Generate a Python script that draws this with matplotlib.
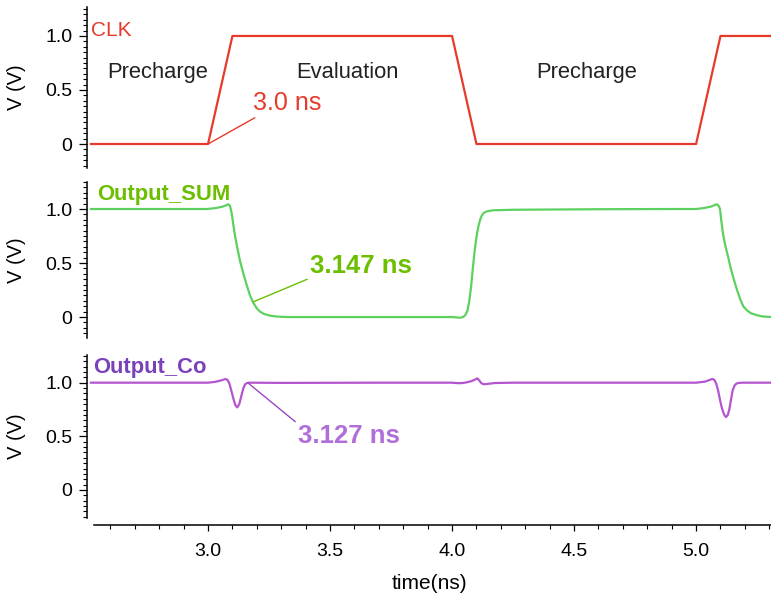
#!/usr/bin/env python3
"""Dynamic full-adder transient waveforms: CLK, Output_SUM and Output_Co."""

import matplotlib

matplotlib.use("Agg")
import matplotlib.pyplot as plt
from matplotlib.ticker import FixedLocator, FixedFormatter, MultipleLocator

plt.rcParams["font.family"] = ["Liberation Sans", "DejaVu Sans"]

# clock: piecewise linear edges (ns, V)
clk_t = [2.52, 3.0, 3.1, 4.0, 4.1, 5.0, 5.1, 5.31]
clk_v = [0.0, 0.0, 1.0, 1.0, 0.0, 0.0, 1.0, 1.0]

# Output_SUM
sum_t = [2.52, 2.8, 2.995, 3.03, 3.06, 3.075, 3.083, 3.09, 3.097, 3.104,
         3.11, 3.12, 3.131, 3.145, 3.158, 3.172, 3.186, 3.2, 3.213, 3.23,
         3.254, 3.28, 3.32, 3.6,
         4.0, 4.02, 4.035, 4.045, 4.055, 4.063, 4.07, 4.078, 4.085, 4.093,
         4.10, 4.108, 4.115, 4.122, 4.131, 4.145, 4.168, 4.25, 4.6, 4.9,
         5.0, 5.03, 5.06, 5.075, 5.085, 5.092, 5.098, 5.104, 5.111, 5.12,
         5.131, 5.141, 5.152, 5.165, 5.18, 5.193, 5.207, 5.225, 5.248, 5.27,
         5.31]
sum_v = [1.0, 1.0, 1.0, 1.008, 1.022, 1.035, 1.044, 1.03, 0.96, 0.85,
         0.76, 0.64, 0.52, 0.40, 0.30, 0.20, 0.13, 0.08, 0.05, 0.028,
         0.013, 0.005, 0.0, 0.0,
         0.0, -0.004, -0.006, 0.0, 0.02, 0.06, 0.14, 0.28, 0.45, 0.62,
         0.74, 0.84, 0.90, 0.94, 0.966, 0.98, 0.988, 0.993, 0.998, 1.0,
         1.0, 1.008, 1.022, 1.035, 1.044, 1.03, 1.0, 0.88, 0.76, 0.66,
         0.56, 0.46, 0.37, 0.27, 0.17, 0.10, 0.065, 0.035, 0.018, 0.006,
         0.0]

# Output_Co
co_t = [2.52, 2.8, 3.0, 3.03, 3.055, 3.072, 3.08, 3.087, 3.095, 3.104,
        3.112, 3.12, 3.128, 3.138, 3.145, 3.152, 3.16, 3.17, 3.3, 3.7,
        3.998, 4.02, 4.04, 4.06, 4.08, 4.095, 4.104, 4.112, 4.12, 4.131,
        4.15, 4.176, 4.25, 4.6,
        5.0, 5.037, 5.055, 5.067, 5.075, 5.082, 5.09, 5.098, 5.105, 5.112,
        5.118, 5.123, 5.13, 5.136, 5.143, 5.15, 5.158, 5.166, 5.18, 5.192,
        5.31]
co_v = [1.0, 1.0, 1.0, 1.008, 1.022, 1.035, 1.025, 0.995, 0.93, 0.85,
        0.79, 0.77, 0.80, 0.89, 0.95, 0.985, 0.997, 1.0, 0.998, 1.0,
        1.0, 0.996, 0.996, 1.003, 1.015, 1.03, 1.04, 1.02, 0.995, 0.985,
        0.99, 0.997, 1.0, 1.0,
        1.0, 1.01, 1.025, 1.035, 1.025, 0.995, 0.93, 0.84, 0.77, 0.72,
        0.69, 0.68, 0.70, 0.75, 0.84, 0.93, 0.975, 0.993, 0.999, 1.0,
        1.0]

phase_names = ["Precharge", "Evaluation", "Precharge"]
phase_t = [2.795, 3.57, 4.553]

ytick_vals = [0.0, 0.5, 1.0]
ytick_labels = ["0", "0.5", "1.0"]
xtick_vals = [3.0, 3.5, 4.0, 4.5, 5.0]
xtick_labels = ["3.0", "3.5", "4.0", "4.5", "5.0"]

RED = "#e63b2b"
GREEN_LINE = "#5cd160"
GREEN_TEXT = "#6cbf00"
PURPLE_LINE = "#b455cf"
PURPLE_NAME = "#7a42ba"
PURPLE_TEXT = "#b06fd8"

W, H = 771, 597
XLIM = (2.504, 5.307)


def px_box(top, bottom, left=87, right=771):
    return [left / W, 1 - bottom / H, (right - left) / W, (bottom - top) / H]


def style_axis(ax, ylim, show_x=False):
    ax.set_xlim(*XLIM)
    ax.set_ylim(*ylim)
    for side in ("top", "right"):
        ax.spines[side].set_visible(False)
    ax.spines["left"].set_linewidth(1.1)
    ax.yaxis.set_major_locator(FixedLocator(ytick_vals))
    ax.yaxis.set_major_formatter(FixedFormatter(ytick_labels))
    ax.yaxis.set_minor_locator(MultipleLocator(0.05))
    ax.tick_params(axis="y", which="major", length=5.5, width=0.9,
                   labelsize=14, pad=5)
    ax.tick_params(axis="y", which="minor", length=3.2, width=0.8)
    if show_x:
        ax.spines["bottom"].set_position(("outward", 5))
        ax.spines["bottom"].set_bounds(2.533, XLIM[1])
        ax.spines["bottom"].set_linewidth(1.1)
        ax.xaxis.set_major_locator(FixedLocator(xtick_vals))
        ax.xaxis.set_major_formatter(FixedFormatter(xtick_labels))
        ax.xaxis.set_minor_locator(FixedLocator(
            [2.6, 2.7, 2.8, 2.9, 3.1, 3.2, 3.3, 3.4, 3.6, 3.7, 3.8, 3.9,
             4.1, 4.2, 4.3, 4.4, 4.6, 4.7, 4.8, 4.9, 5.1, 5.2, 5.3]))
        ax.tick_params(axis="x", which="major", length=4, width=0.9,
                       labelsize=14, pad=9)
        ax.tick_params(axis="x", which="minor", length=3.2, width=0.8)
        ax.set_xlabel("time(ns)", fontsize=15, labelpad=10)
    else:
        ax.spines["bottom"].set_visible(False)
        ax.set_xticks([])


def main():
    fig = plt.figure(figsize=(W / 100, H / 100), dpi=100)
    ax_clk = fig.add_axes(px_box(7, 168))
    ax_sum = fig.add_axes(px_box(182, 338))
    ax_co = fig.add_axes(px_box(355, 518))

    # CLK
    style_axis(ax_clk, (-0.222, 1.268))
    ax_clk.plot(clk_t, clk_v, color=RED, lw=1.6, clip_on=False)
    ax_clk.text(2.52, 1.0, "CLK", color=RED, fontsize=15, va="baseline")
    for name, t in zip(phase_names, phase_t):
        ax_clk.text(t, 0.61, name, fontsize=15.8, color="#222222",
                    ha="center", va="baseline")
    ax_clk.annotate("3.0 ns", xy=(3.0, 0.0), xytext=(3.184, 0.315),
                    color=RED, fontsize=18, va="baseline",
                    arrowprops=dict(arrowstyle="-", color=RED, lw=1.0,
                                    shrinkA=0, shrinkB=0,
                                    relpos=(0.1, 0.0)))

    # Output_SUM
    style_axis(ax_sum, (-0.194, 1.25))
    ax_sum.plot(sum_t, sum_v, color=GREEN_LINE, lw=1.6)
    ax_sum.text(2.545, 1.083, "Output_SUM", color=GREEN_TEXT, fontsize=15.8,
                fontweight="bold", va="baseline")
    ax_sum.annotate("3.147 ns", xy=(3.184, 0.139), xytext=(3.418, 0.407),
                    color=GREEN_TEXT, fontsize=18.5, fontweight="bold",
                    va="baseline",
                    arrowprops=dict(arrowstyle="-", color=GREEN_TEXT, lw=1.0,
                                    shrinkA=0, shrinkB=0, relpos=(0.0, 0.0)))

    # Output_Co
    style_axis(ax_co, (-0.261, 1.258), show_x=True)
    ax_co.plot(co_t, co_v, color=PURPLE_LINE, lw=1.6)
    ax_co.text(2.528, 1.09, "Output_Co", color=PURPLE_NAME, fontsize=15.8,
               fontweight="bold", va="baseline")
    ax_co.annotate("3.127 ns", xy=(3.164, 0.997), xytext=(3.369, 0.438),
                   color=PURPLE_TEXT, fontsize=18.5, fontweight="bold",
                   va="baseline",
                   arrowprops=dict(arrowstyle="-", color="#9a48bf", lw=1.0,
                                   shrinkA=0, shrinkB=0, relpos=(0.0, 1.0)))

    for ax in (ax_clk, ax_sum, ax_co):
        bb = ax.get_position()
        fig.text(16 / W, bb.y0 + bb.height / 2, "V (V)", fontsize=14.5,
                 rotation=90, ha="center", va="center")

    fig.savefig("out.png", dpi=100)
    plt.close(fig)


if __name__ == "__main__":
    main()
